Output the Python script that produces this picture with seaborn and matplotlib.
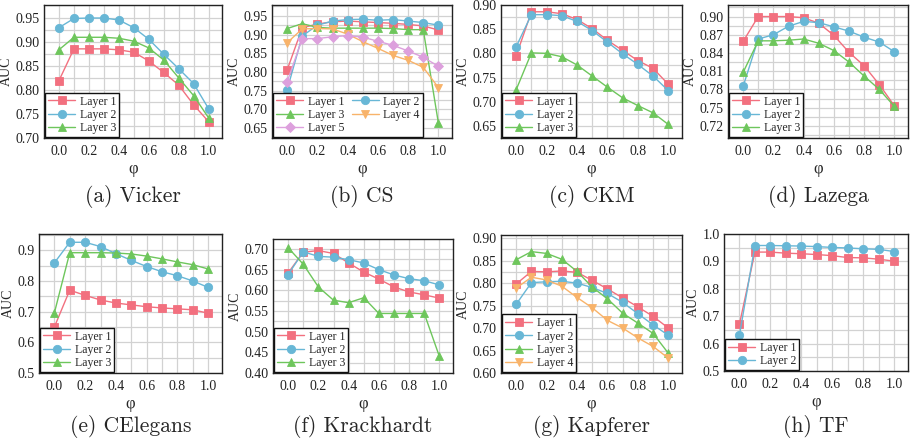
import numpy as np
import pandas as pd
import matplotlib
matplotlib.use("Agg")
import matplotlib.pyplot as plt
from matplotlib.ticker import MultipleLocator, FormatStrFormatter
import seaborn as sns

phi = [0.0, 0.1, 0.2, 0.3, 0.4, 0.5, 0.6, 0.7, 0.8, 0.9, 1.0]

# Vicker
vicker_l1 = [0.819, 0.885, 0.885, 0.885, 0.883, 0.878, 0.860, 0.836, 0.810, 0.769, 0.734]
vicker_l2 = [0.929, 0.948, 0.949, 0.949, 0.945, 0.929, 0.905, 0.874, 0.844, 0.813, 0.761]
vicker_l3 = [0.883, 0.909, 0.909, 0.909, 0.907, 0.901, 0.887, 0.862, 0.825, 0.788, 0.742]

# CS
cs_l1 = [0.805, 0.918, 0.928, 0.934, 0.936, 0.934, 0.932, 0.930, 0.927, 0.923, 0.912]
cs_l2 = [0.752, 0.896, 0.925, 0.936, 0.940, 0.941, 0.938, 0.940, 0.936, 0.932, 0.925]
cs_l3 = [0.916, 0.929, 0.919, 0.917, 0.917, 0.917, 0.917, 0.916, 0.913, 0.913, 0.663]
cs_l4 = [0.878, 0.915, 0.916, 0.915, 0.901, 0.881, 0.863, 0.844, 0.831, 0.812, 0.758]
cs_l5 = [0.773, 0.889, 0.889, 0.894, 0.897, 0.893, 0.882, 0.871, 0.856, 0.839, 0.815]

# CKM
ckm_l1 = [0.795, 0.886, 0.886, 0.882, 0.870, 0.851, 0.827, 0.806, 0.785, 0.769, 0.736]
ckm_l2 = [0.814, 0.880, 0.880, 0.878, 0.866, 0.847, 0.823, 0.799, 0.777, 0.753, 0.723]
ckm_l3 = [0.725, 0.801, 0.800, 0.793, 0.776, 0.753, 0.730, 0.708, 0.692, 0.677, 0.653]

# Lazega
lazega_l1 = [0.859, 0.900, 0.900, 0.900, 0.898, 0.889, 0.869, 0.841, 0.819, 0.788, 0.753]
lazega_l2 = [0.785, 0.863, 0.870, 0.884, 0.892, 0.890, 0.883, 0.876, 0.866, 0.858, 0.842]
lazega_l3 = [0.808, 0.860, 0.860, 0.861, 0.863, 0.856, 0.844, 0.825, 0.802, 0.780, 0.752]

# CElegans
celegans_l1 = [0.650, 0.770, 0.753, 0.738, 0.728, 0.722, 0.716, 0.712, 0.709, 0.706, 0.695]
celegans_l2 = [0.859, 0.926, 0.926, 0.912, 0.889, 0.867, 0.847, 0.830, 0.817, 0.800, 0.779]
celegans_l3 = [0.696, 0.892, 0.892, 0.892, 0.891, 0.888, 0.881, 0.872, 0.862, 0.853, 0.839]

# Krackhardt
krack_l1 = [0.642, 0.692, 0.696, 0.689, 0.666, 0.644, 0.627, 0.608, 0.596, 0.589, 0.581]
krack_l2 = [0.638, 0.693, 0.682, 0.680, 0.674, 0.666, 0.650, 0.637, 0.628, 0.623, 0.613]
krack_l3 = [0.703, 0.663, 0.608, 0.576, 0.570, 0.582, 0.544, 0.544, 0.544, 0.544, 0.440]

# Kapferer
kapf_l1 = [0.798, 0.826, 0.825, 0.827, 0.824, 0.806, 0.787, 0.767, 0.747, 0.726, 0.700]
kapf_l2 = [0.753, 0.801, 0.803, 0.804, 0.800, 0.790, 0.777, 0.757, 0.732, 0.707, 0.684]
kapf_l3 = [0.852, 0.870, 0.866, 0.853, 0.826, 0.791, 0.765, 0.733, 0.711, 0.688, 0.644]
kapf_l4 = [0.789, 0.813, 0.807, 0.793, 0.768, 0.745, 0.717, 0.700, 0.678, 0.659, 0.633]

# TF
tf_l1 = [0.671, 0.934, 0.934, 0.930, 0.928, 0.925, 0.921, 0.914, 0.913, 0.908, 0.901]
tf_l2 = [0.631, 0.958, 0.958, 0.957, 0.956, 0.954, 0.951, 0.949, 0.946, 0.944, 0.936]

layer_names = ["Layer 1", "Layer 2", "Layer 3", "Layer 4", "Layer 5"]
colors = ["#F2707F", "#68B7D6", "#6EC65C", "#F8B36A", "#DDA0DD"]
markers = ["s", "o", "^", "v", "D"]

panels = [
    dict(cap="(a) Vicker", series=[vicker_l1, vicker_l2, vicker_l3],
         ylim=(0.70, 0.976), ystep=0.05, fmt="%.2f", ncol=1),
    dict(cap="(b) CS", series=[cs_l1, cs_l2, cs_l3, cs_l4, cs_l5],
         ylim=(0.623, 0.979), ystep=0.05, fmt="%.2f", ncol=2),
    dict(cap="(c) CKM", series=[ckm_l1, ckm_l2, ckm_l3],
         ylim=(0.625, 0.90), ystep=0.05, fmt="%.2f", ncol=1),
    dict(cap="(d) Lazega", series=[lazega_l1, lazega_l2, lazega_l3],
         ylim=(0.70, 0.919), ystep=0.03, fmt="%.2f", ncol=1),
    dict(cap="(e) CElegans", series=[celegans_l1, celegans_l2, celegans_l3],
         ylim=(0.50, 0.953), ystep=0.1, fmt="%.1f", ncol=1),
    dict(cap="(f) Krackhardt", series=[krack_l1, krack_l2, krack_l3],
         ylim=(0.40, 0.724), ystep=0.05, fmt="%.2f", ncol=1),
    dict(cap="(g) Kapferer", series=[kapf_l1, kapf_l2, kapf_l3, kapf_l4],
         ylim=(0.60, 0.907), ystep=0.05, fmt="%.2f", ncol=1),
    dict(cap="(h) TF", series=[tf_l1, tf_l2],
         ylim=(0.50, 1.00), ystep=0.1, fmt="%.1f", ncol=1),
]

# axes boxes in pixels: left, right, top, bottom
W, H = 912, 443
boxes = [
    (44, 222, 5, 138), (272, 452, 5, 138), (501, 682, 5, 138), (728, 908, 5, 138),
    (39, 222, 234, 373), (273, 453, 239, 373), (501, 682, 235, 373), (724, 908, 234, 371),
]
cap_y = [196, 196, 196, 196, 426, 426, 426, 426]

sns.set_theme(style="whitegrid")
plt.rcParams["font.family"] = ["Liberation Serif", "DejaVu Serif"]

fig = plt.figure(figsize=(W / 100, H / 100), dpi=100)
fig.patch.set_facecolor("white")

for p, (l, r, t, b), cy in zip(panels, boxes, cap_y):
    ax = fig.add_axes([l / W, 1 - b / H, (r - l) / W, (b - t) / H])
    ax.set_facecolor("white")
    for i, vals in enumerate(p["series"]):
        df = pd.DataFrame({"phi": phi, "AUC": vals})
        sns.lineplot(data=df, x="phi", y="AUC", ax=ax, color=colors[i],
                     marker=markers[i], markersize=6 if markers[i] != "D" else 5,
                     markeredgecolor=colors[i], markeredgewidth=0.6,
                     linewidth=1.0, label=layer_names[i])
    ax.set_xlim(-0.1, 1.09)
    ax.set_ylim(*p["ylim"])
    ax.xaxis.set_major_locator(MultipleLocator(0.2))
    ax.xaxis.set_minor_locator(MultipleLocator(0.1))
    ax.yaxis.set_major_locator(MultipleLocator(p["ystep"]))
    ax.yaxis.set_minor_locator(MultipleLocator(p["ystep"] / 2))
    ax.xaxis.set_major_formatter(FormatStrFormatter("%.1f"))
    ax.yaxis.set_major_formatter(FormatStrFormatter(p["fmt"]))
    ax.grid(which="both", color="#d2d2d2", linewidth=0.9)
    ax.set_axisbelow(True)
    ax.tick_params(which="both", direction="in", length=0, labelsize=10,
                   colors="#222222")
    ax.tick_params(axis="x", pad=5)
    ax.tick_params(axis="y", pad=3)
    for s in ax.spines.values():
        s.set_color("#222222")
        s.set_linewidth(1.0)
    ax.set_xlabel("φ", fontsize=12, labelpad=2)
    ax.set_ylabel("AUC", fontsize=10, labelpad=2)

    handles, labels = ax.get_legend_handles_labels()
    if p["ncol"] == 2:
        # row-wise ordering: Layer 1 | Layer 2 / Layer 3 | Layer 4 / Layer 5
        order = [0, 2, 4, 1, 3]
        handles = [handles[k] for k in order]
        labels = [labels[k] for k in order]
    leg = ax.legend(handles, labels, loc="lower left", ncol=p["ncol"],
                    fontsize=8.5, frameon=True, fancybox=False,
                    borderaxespad=0.1, handlelength=2.3, handletextpad=0.4,
                    labelspacing=0.1, columnspacing=0.6, borderpad=0.25)
    leg.get_frame().set_edgecolor("#111111")
    leg.get_frame().set_linewidth(1.0)
    leg.get_frame().set_alpha(1)
    fig.text((l + r) / 2 / W, 1 - cy / H, p["cap"], ha="center", va="center",
             fontsize=15.5, family="cmr10")

fig.savefig("out.png", dpi=100, facecolor="white")
